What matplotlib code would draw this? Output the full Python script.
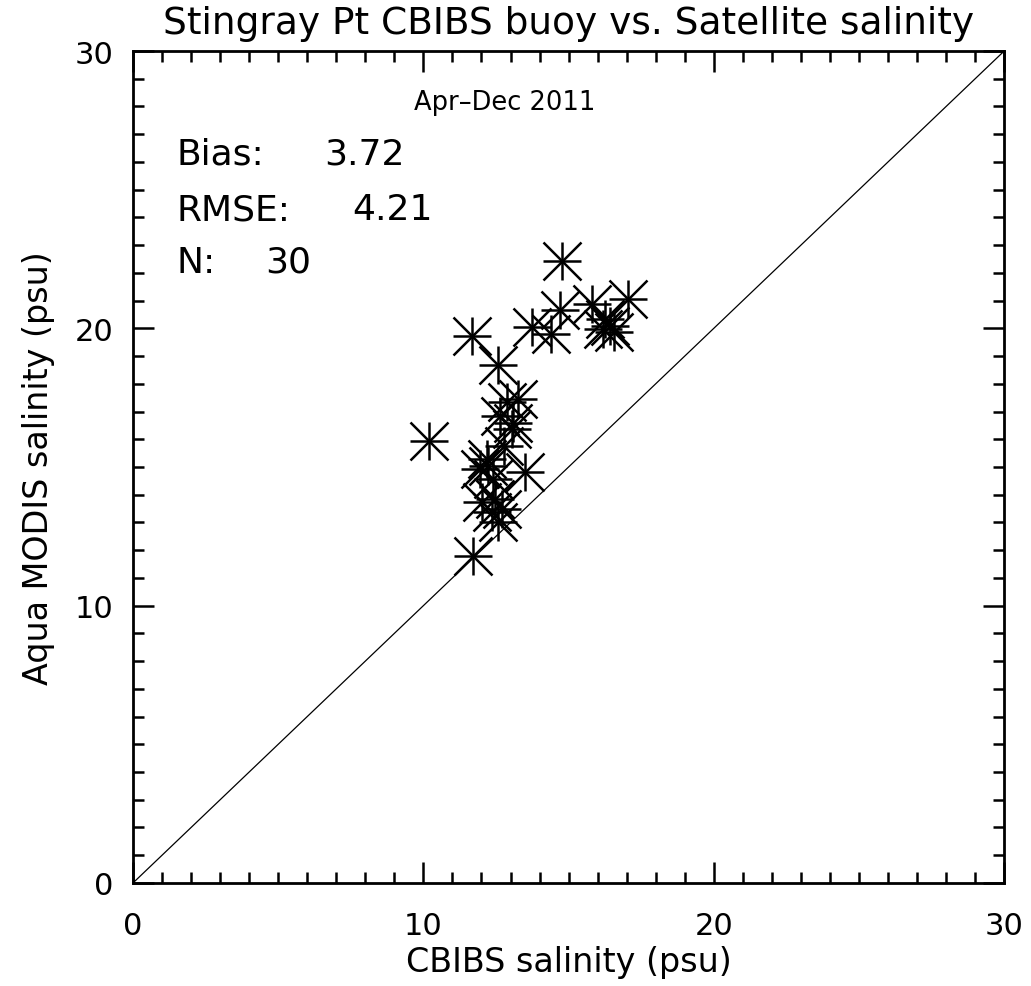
import matplotlib.pyplot as plt
import numpy as np
from matplotlib.ticker import MultipleLocator

# CBIBS buoy salinity vs Aqua MODIS salinity (psu)
buoy_sal = [14.79, 11.67, 12.56, 10.21, 11.72, 13.73, 14.71, 14.40, 15.80, 17.06,
            16.26, 16.43, 16.55, 16.20, 13.50, 13.27, 12.87, 13.04, 12.76, 12.24,
            11.95, 12.41, 12.01, 12.47, 12.36, 12.70, 12.58, 12.64, 12.20, 13.10]
modis_sal = [22.43, 19.73, 18.69, 15.92, 11.79, 20.03, 20.67, 19.81, 20.88, 21.06,
             20.34, 20.10, 19.85, 19.97, 14.81, 17.45, 17.33, 16.37, 15.77, 15.05,
             14.93, 14.57, 13.72, 13.85, 13.37, 13.49, 13.00, 16.85, 15.30, 16.60]

bias = 3.72
rmse = 4.21
n_obs = 30

plt.rcParams['font.family'] = ['DejaVu Sans']

fig = plt.figure(figsize=(10.31, 9.87), dpi=100)
ax = fig.add_axes([0.129, 0.1044, 0.845, 0.8429])

# 1:1 line
ax.plot([0, 30], [0, 30], color='black', lw=0.9)

# IDL style asterisk: plus + cross
ax.plot(buoy_sal, modis_sal, ls='none', marker='+', ms=27, mew=1.8, color='black')
ax.plot(buoy_sal, modis_sal, ls='none', marker='x', ms=27, mew=1.8, color='black')

ax.set_xlim(0, 30)
ax.set_ylim(0, 30)
ax.xaxis.set_major_locator(MultipleLocator(10))
ax.yaxis.set_major_locator(MultipleLocator(10))
ax.xaxis.set_minor_locator(MultipleLocator(1))
ax.yaxis.set_minor_locator(MultipleLocator(1))
ax.tick_params(which='both', direction='in', top=True, right=True, width=1.8)
ax.tick_params(which='major', length=15, labelsize=22)
ax.tick_params(axis='x', which='major', pad=20)
ax.tick_params(axis='y', which='major', pad=14)
ax.tick_params(which='minor', length=8)
for s in ax.spines.values():
    s.set_linewidth(2)

ax.set_title('Stingray Pt CBIBS buoy vs. Satellite salinity', fontsize=27, pad=13)
ax.set_xlabel('CBIBS salinity (psu)', fontsize=24, labelpad=4)
ax.set_ylabel('Aqua MODIS salinity (psu)', fontsize=24, labelpad=14)

ax.text(12.8, 28.15, 'Apr\u2013Dec 2011', fontsize=18.5, ha='center', va='center')
ax.text(1.5, 26.3, 'Bias:', fontsize=26, va='center')
ax.text(6.6, 26.3, f'{bias:.2f}', fontsize=26, va='center')
ax.text(1.5, 24.3, 'RMSE:', fontsize=26, va='center')
ax.text(7.55, 24.3, f'{rmse:.2f}', fontsize=26, va='center')
ax.text(1.5, 22.4, 'N:', fontsize=26, va='center')
ax.text(4.55, 22.4, f'{n_obs}', fontsize=26, va='center')

plt.savefig('out.png', dpi=100)
